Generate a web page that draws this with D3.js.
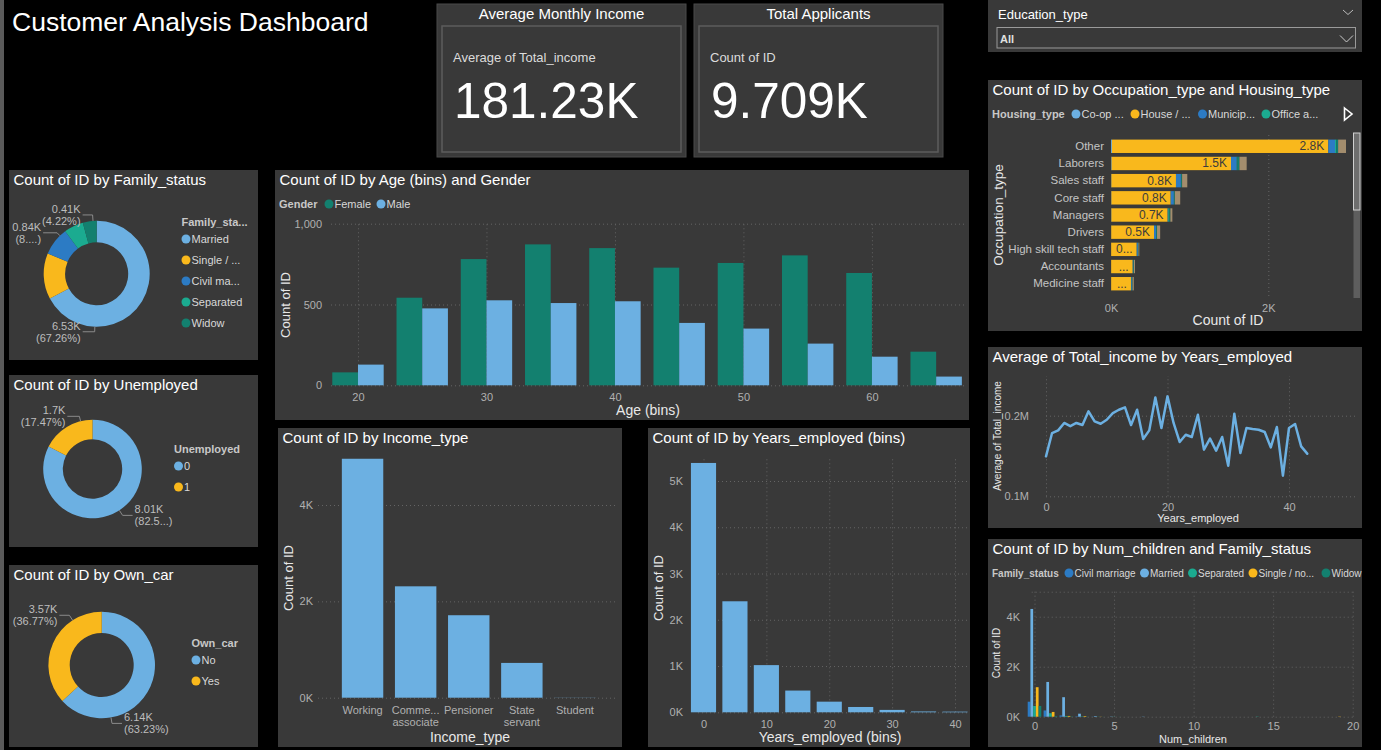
<!DOCTYPE html>
<html>
<head>
<meta charset="utf-8">
<script src="https://cdn.jsdelivr.net/npm/d3@7"></script>
<style>
  body { margin: 0; background: #000; }
  svg { display: block; font-family: "Liberation Sans", Arial, sans-serif; }
</style>
</head>
<body>
<svg id="dash" width="1381" height="750"></svg>
<script>
// ---- data ----
const familyStatus = ["Married", "Single / not married", "Civil marriage", "Separated", "Widow"];
const familyLegend = ["Married", "Single / ...", "Civil ma...", "Separated", "Widow"];
const familyCounts = [6530, 1359, 836, 574, 410];

const unemployedCats = ["0", "1"];
const unemployedCounts = [8013, 1696];

const ownCarCats = ["No", "Yes"];
const ownCarCounts = [6139, 3570];

const ageBins = [20, 25, 30, 35, 40, 45, 50, 55, 60, 65];
const ageFemale = [80, 542, 781, 872, 849, 728, 757, 804, 695, 208];
const ageMale = [128, 476, 526, 509, 520, 386, 351, 258, 177, 54];

const incomeTypes = ["Working", "Commercial associate", "Pensioner", "State servant", "Student"];
const incomeTickLabels = [["Working"], ["Comme...", "associate"], ["Pensioner"], ["State", "servant"], ["Student"]];
const incomeCounts = [4960, 2312, 1712, 722, 3];

const yearsBins = [0, 5, 10, 15, 20, 25, 30, 35, 40];
const yearsCounts = [5390, 2400, 1020, 470, 230, 115, 52, 18, 14];

const occupations = ["Other", "Laborers", "Sales staff", "Core staff", "Managers", "Drivers",
  "High skill tech staff", "Accountants", "Medicine staff"];
const housingTypes = ["Co-op apartment", "House / apartment", "Municipal apartment",
  "Office apartment", "Rented apartment", "With parents"];
const housingLegend = ["Co-op ...", "House / ...", "Municip...", "Office a..."];
const coopCounts = [12, 8, 5, 5, 5, 3, 2, 2, 2];
const houseCounts = [2751, 1518, 821, 754, 715, 544, 325, 274, 252];
const municipalCounts = [85, 72, 63, 40, 8, 25, 15, 8, 10];
const officeCounts = [15, 10, 5, 5, 15, 3, 3, 3, 2];
const rentedCounts = [25, 25, 10, 8, 12, 10, 5, 5, 8];
const parentsCounts = [100, 92, 66, 68, 25, 40, 10, 13, 16];

const yearsEmployed = [0, 1, 2, 3, 4, 5, 6, 7, 8, 9, 10, 11, 12, 13, 14, 15, 16, 17, 18, 19, 20, 21,
  22, 23, 24, 25, 26, 27, 28, 29, 30, 31, 32, 33, 34, 35, 36, 37, 38, 39, 40, 41, 42, 43];
const avgIncome = [149600, 178500, 181800, 191000, 187000, 191000, 188400, 205400, 193000, 190000,
  195000, 203300, 207400, 210300, 188400, 207400, 171000, 181800, 222700, 184700, 224000, 191000,
  167400, 176400, 173600, 201200, 157900, 171500, 156600, 173600, 138000, 202500, 153700, 184700,
  183500, 182600, 179800, 160700, 186000, 125600, 184700, 189700, 162000, 152900];

const childNums = [0, 1, 2, 3, 4, 5, 7, 14, 19];
const childFamily = ["Civil marriage", "Married", "Separated", "Single / not married", "Widow"];
const childLegend = ["Civil marriage", "Married", "Separated", "Single / no...", "Widow"];
const childCivil = [600, 250, 50, 15, 5, 0, 0, 0, 0];
const childMarried = [4310, 1390, 780, 120, 25, 10, 8, 0, 0];
const childSeparated = [430, 140, 30, 15, 5, 5, 0, 10, 0];
const childSingle = [1180, 190, 30, 25, 5, 0, 0, 0, 10];
const childWidow = [430, 25, 10, 5, 3, 3, 0, 0, 0];

// ---- colours ----
const LBLUE = "#6cb0e2", YELLOW = "#f9b81c", DBLUE = "#2c7bc4", TEAL = "#1bab90",
  DTEAL = "#13806f", TAN = "#a38d6d";
const PANEL = "#393939";
const GRID = "#646464";
const TICK = "#b0b0b0";

const svg = d3.select("#dash");
svg.append("rect").attr("width", 1381).attr("height", 750).attr("fill", "#000");
svg.append("rect").attr("width", 4).attr("height", 750).attr("fill", "#5a5a5a");

// ---- helpers ----
function panel(x, y, w, h, title) {
  svg.append("rect").attr("x", x).attr("y", y).attr("width", w).attr("height", h).attr("fill", PANEL);
  if (title) {
    svg.append("text").attr("x", x + 4.5).attr("y", y + 15).attr("fill", "#fff")
      .style("font-size", "15px").text(title);
  }
}

function fitText(sel, full, maxW, parens) {
  sel.text(full);
  if (sel.node().getComputedTextLength() <= maxW) return;
  const s = parens ? full.slice(1, -1) : full;
  for (let n = s.length - 1; n >= 0; n--) {
    const t = parens ? "(" + s.slice(0, n) + "...)" : s.slice(0, n) + "...";
    sel.text(t);
    if (sel.node().getComputedTextLength() <= maxW) return;
  }
}

const fmtK = v => (+(v / 1000).toFixed(2)) + "K";

function yAxis(scale, ticks, fmt, x0, x1, labelX) {
  const g = svg.append("g").attr("transform", `translate(${x0},0)`)
    .call(d3.axisLeft(scale).tickValues(ticks).tickFormat(fmt)
      .tickSize(-(x1 - x0)).tickPadding(x0 - labelX));
  g.select(".domain").remove();
  g.selectAll("line").attr("stroke", GRID).attr("stroke-dasharray", "1,3");
  g.selectAll("text").attr("fill", TICK).style("font-size", "11px").style("font-family", null);
  return g;
}

function xAxis(scale, ticks, fmt, yBase, yTop, pad) {
  const axis = d3.axisBottom(scale).tickFormat(fmt).tickPadding(pad);
  if (ticks) axis.tickValues(ticks);
  axis.tickSize(yTop === null ? 0 : -(yBase - yTop));
  const g = svg.append("g").attr("transform", `translate(0,${yBase})`).call(axis);
  g.select(".domain").remove();
  g.selectAll("line").attr("stroke", GRID).attr("stroke-dasharray", "1,3");
  g.selectAll("text").attr("fill", TICK).style("font-size", "11px").style("font-family", null);
  return g;
}

function hTitle(x, y, text, size) {
  svg.append("text").attr("x", x).attr("y", y).attr("text-anchor", "middle")
    .attr("dominant-baseline", "central").attr("fill", "#e8e8e8")
    .style("font-size", size + "px").text(text);
}

function vTitle(x, y, text, size) {
  svg.append("text").attr("transform", `translate(${x},${y}) rotate(-90)`)
    .attr("text-anchor", "middle").attr("dominant-baseline", "central")
    .attr("fill", "#e8e8e8").style("font-size", size + "px").text(text);
}

function legendV(x, y, title, labels, colors) {
  svg.append("text").attr("x", x).attr("y", y + 4).attr("fill", "#c8c8c8")
    .style("font-size", "11px").style("font-weight", "bold").text(title);
  labels.forEach((t, i) => {
    const cy = y + 17 + i * 21;
    svg.append("circle").attr("cx", x + 4.5).attr("cy", cy).attr("r", 4.5).attr("fill", colors[i]);
    svg.append("text").attr("x", x + 10).attr("y", cy + 4).attr("fill", "#d8d8d8")
      .style("font-size", "11px").text(t);
  });
}

function legendH(y, titleX, title, labels, colors, dotXs, size) {
  svg.append("text").attr("x", titleX).attr("y", y + 4).attr("fill", "#c8c8c8")
    .style("font-size", size + "px").style("font-weight", "bold").text(title);
  labels.forEach((t, i) => {
    svg.append("circle").attr("cx", dotXs[i]).attr("cy", y).attr("r", 4.5).attr("fill", colors[i]);
    svg.append("text").attr("x", dotXs[i] + 5.5).attr("y", y + 4).attr("fill", "#d8d8d8")
      .style("font-size", size + "px").text(t);
  });
}

function donut(o) {
  const total = d3.sum(o.values);
  const pie = d3.pie().sort(null).value(d => d)(o.values);
  const arc = d3.arc().innerRadius(o.ri).outerRadius(o.r);
  const g = svg.append("g").attr("transform", `translate(${o.cx},${o.cy})`);
  g.selectAll("path").data(pie).join("path").attr("d", arc).attr("fill", (d, i) => o.colors[i]);

  o.labels.forEach(l => {
    const a = l.angle * Math.PI / 180;
    const p0 = [o.cx + o.r * Math.sin(a), o.cy - o.r * Math.cos(a)];
    const p1 = [o.cx + (o.r + l.ext) * Math.sin(a), o.cy - (o.r + l.ext) * Math.cos(a)];
    const right = Math.sin(a) > 0.05 && !l.left;
    const p2 = [p1[0] + (right ? l.h : -l.h), p1[1]];
    svg.append("path").attr("d", d3.line()([p0, p1, p2]))
      .attr("fill", "none").attr("stroke", "#8a8a8a").attr("stroke-width", 1);
    const tx = p2[0] + (right ? 2 : -2);
    const maxW = right ? o.legendX - tx - 1 : tx - o.panelX - 2;
    const v = o.values[l.i];
    const t1 = svg.append("text").attr("x", tx).attr("y", p2[1] - 2)
      .attr("text-anchor", right ? "start" : "end").attr("fill", "#bdbdbd").style("font-size", "11px");
    fitText(t1, fmtK(v), maxW, false);
    const t2 = svg.append("text").attr("x", tx).attr("y", p2[1] + 10)
      .attr("text-anchor", right ? "start" : "end").attr("fill", "#bdbdbd").style("font-size", "11px");
    fitText(t2, "(" + (v / total * 100).toFixed(2) + "%)", maxW, true);
  });
}

// ---- header ----
svg.append("text").attr("x", 12).attr("y", 31).attr("fill", "#fff")
  .style("font-size", "26.5px").text("Customer Analysis Dashboard");

function kpi(x, title, sub, value) {
  svg.append("rect").attr("x", x).attr("y", 4).attr("width", 249).attr("height", 153)
    .attr("fill", PANEL).attr("stroke", "#4a4a4a");
  svg.append("text").attr("x", x + 124.5).attr("y", 18.5).attr("text-anchor", "middle")
    .attr("fill", "#fff").style("font-size", "15px").text(title);
  svg.append("rect").attr("x", x + 5).attr("y", 26).attr("width", 239).attr("height", 126)
    .attr("fill", PANEL).attr("stroke", "#5c5c5c").attr("stroke-width", 1.5);
  svg.append("text").attr("x", x + 16).attr("y", 62).attr("fill", "#dcdcdc")
    .style("font-size", "13px").text(sub);
  svg.append("text").attr("x", x + 17).attr("y", 118).attr("fill", "#fff")
    .style("font-size", "49.5px").text(value);
}
kpi(437, "Average Monthly Income", "Average of Total_income", "181.23K");
kpi(694, "Total Applicants", "Count of ID", "9.709K");

// ---- slicer ----
panel(988, 0, 374, 52);
svg.append("text").attr("x", 998).attr("y", 19).attr("fill", "#fff").style("font-size", "13px").text("Education_type");
svg.append("path").attr("d", "M1343,10 L1348,14.5 L1353,10").attr("fill", "none").attr("stroke", "#bbb");
svg.append("rect").attr("x", 997).attr("y", 27.5).attr("width", 358.5).attr("height", 20.5)
  .attr("fill", "none").attr("stroke", "#9a9a9a");
svg.append("text").attr("x", 1000).attr("y", 43).attr("fill", "#e0e0e0")
  .style("font-size", "11px").style("font-weight", "bold").text("All");
svg.append("path").attr("d", "M1340,35.5 L1346.5,42 L1353,35.5").attr("fill", "none").attr("stroke", "#ccc");

// ---- donuts ----
panel(9, 170, 249, 190, "Count of ID by Family_status");
donut({
  cx: 96.7, cy: 273.8, r: 53, ri: 31.5, values: familyCounts,
  colors: [LBLUE, YELLOW, DBLUE, TEAL, DTEAL], panelX: 9, legendX: 181,
  labels: [
    { i: 4, angle: -4, ext: 6, h: 10 },
    { i: 2, angle: -44, ext: 4, h: 14 },
    { i: 0, angle: 182, ext: 5, h: 12, left: true }
  ]
});
legendV(181.5, 222, "Family_sta...", familyLegend, [LBLUE, YELLOW, DBLUE, TEAL, DTEAL]);

panel(9, 375, 249, 172, "Count of ID by Unemployed");
donut({
  cx: 92.5, cy: 469, r: 49.3, ri: 29.7, values: unemployedCounts,
  colors: [LBLUE, YELLOW], panelX: 9, legendX: 174,
  labels: [
    { i: 1, angle: -14, ext: 5, h: 12 },
    { i: 0, angle: 147, ext: 6, h: 10 }
  ]
});
legendV(174, 449, "Unemployed", unemployedCats, [LBLUE, YELLOW]);

panel(9, 565, 249, 182, "Count of ID by Own_car");
donut({
  cx: 101.7, cy: 665, r: 53.3, ri: 32, values: ownCarCounts,
  colors: [LBLUE, YELLOW], panelX: 9, legendX: 191,
  labels: [
    { i: 1, angle: -33, ext: 6, h: 10 },
    { i: 0, angle: 170, ext: 6, h: 10 }
  ]
});
legendV(191.5, 643, "Own_car", ownCarCats, [LBLUE, YELLOW]);

// ---- age by gender ----
panel(275, 170, 694, 250, "Count of ID by Age (bins) and Gender");
legendH(204, 279, "Gender", ["Female", "Male"], [DTEAL, LBLUE], [329, 381], 11);
const ageX = d3.scaleLinear().domain([17.9, 67.4]).range([331, 967]);
const ageY = d3.scaleLinear().domain([0, 1000]).range([385.3, 223.7]);
yAxis(ageY, [0, 500, 1000], d3.format(","), 331, 967, 322);
xAxis(ageX, [20, 30, 40, 50, 60], d3.format("d"), 385.3, 223.7, 8);
const ageRows = ageBins.map((b, i) => ({ bin: b, female: ageFemale[i], male: ageMale[i] }));
svg.append("g").selectAll("rect").data(ageRows).join("rect")
  .attr("x", d => ageX(d.bin - 2)).attr("width", d => ageX(d.bin) - ageX(d.bin - 2))
  .attr("y", d => ageY(d.female)).attr("height", d => ageY(0) - ageY(d.female)).attr("fill", DTEAL);
svg.append("g").selectAll("rect").data(ageRows).join("rect")
  .attr("x", d => ageX(d.bin)).attr("width", d => ageX(d.bin + 2) - ageX(d.bin))
  .attr("y", d => ageY(d.male)).attr("height", d => ageY(0) - ageY(d.male)).attr("fill", LBLUE);
hTitle(648, 410, "Age (bins)", 14);
vTitle(285, 305, "Count of ID", 13);

// ---- income type ----
panel(278, 428, 344, 319, "Count of ID by Income_type");
const incX = d3.scaleBand().domain(incomeTypes).range([336, 601.5]).paddingInner(0.22).paddingOuter(0.11);
const incY = d3.scaleLinear().domain([0, 4000]).range([697.7, 505]);
yAxis(incY, [0, 2000, 4000], d => d / 1000 + "K", 318, 615, 313);
const incAxis = xAxis(incX, null, d => d, 697.7, null, 9);
incAxis.selectAll(".tick text").each(function (d) {
  const lines = incomeTickLabels[incomeTypes.indexOf(d)];
  const t = d3.select(this).text(null);
  lines.forEach((s, k) => t.append("tspan").attr("x", 0).attr("dy", k === 0 ? "0.71em" : "1.05em").text(s));
});
svg.append("g").selectAll("rect").data(incomeTypes).join("rect")
  .attr("x", d => incX(d)).attr("width", incX.bandwidth())
  .attr("y", (d, i) => incY(incomeCounts[i])).attr("height", (d, i) => incY(0) - incY(incomeCounts[i]))
  .attr("fill", LBLUE);
hTitle(470, 736.5, "Income_type", 14);
vTitle(288, 578, "Count of ID", 13);

// ---- years employed bins ----
panel(648, 428, 322, 319, "Count of ID by Years_employed (bins)");
const yrsX = d3.scaleLinear().domain([0, 40]).range([703.5, 955]);
const yrsY = d3.scaleLinear().domain([0, 5000]).range([712.3, 481]);
yAxis(yrsY, [0, 1000, 2000, 3000, 4000, 5000], d => d / 1000 + "K", 698, 967, 683);
xAxis(yrsX, [0, 10, 20, 30, 40], d3.format("d"), 712.3, 456.7, 8);
svg.append("g").selectAll("rect").data(yearsBins).join("rect")
  .attr("x", d => yrsX(d - 2)).attr("width", d => yrsX(d + 2) - yrsX(d - 2))
  .attr("y", (d, i) => yrsY(yearsCounts[i])).attr("height", (d, i) => yrsY(0) - yrsY(yearsCounts[i]))
  .attr("fill", LBLUE);
hTitle(830, 736.5, "Years_employed (bins)", 14);
vTitle(658, 588, "Count of ID", 13);

// ---- occupation x housing ----
panel(988, 80, 374, 251, "Count of ID by Occupation_type and Housing_type");
const housingColors = [LBLUE, YELLOW, DBLUE, TEAL, DTEAL, TAN];
legendH(114, 992, "Housing_type", housingLegend, housingColors, [1076, 1135, 1202.5, 1266], 11);
svg.append("path").attr("d", "M1344.5,108 L1352,114 L1344.5,120 Z").attr("fill", "none")
  .attr("stroke", "#fff").attr("stroke-width", 1.6);
const occRows = occupations.map((o, i) => ({
  occ: o,
  "Co-op apartment": coopCounts[i], "House / apartment": houseCounts[i],
  "Municipal apartment": municipalCounts[i], "Office apartment": officeCounts[i],
  "Rented apartment": rentedCounts[i], "With parents": parentsCounts[i]
}));
const occStack = d3.stack().keys(housingTypes)(occRows);
const occX = d3.scaleLinear().domain([0, 2000]).range([1111, 1268.3]);
const occY = d3.scaleBand().domain(occupations).range([137.7, 292.3]).paddingInner(0.22).paddingOuter(0.11);
const occXAxis = xAxis(occX, [0, 2000], d => d / 1000 + "K", 296, 133, 8);
occXAxis.selectAll("line").filter(d => d === 0).remove();
const occYAxis = svg.append("g").attr("transform", "translate(1111,0)")
  .call(d3.axisLeft(occY).tickSize(0).tickPadding(7));
occYAxis.select(".domain").remove();
occYAxis.selectAll("text").attr("fill", "#c4c4c4").style("font-size", "11.5px").style("font-family", null);
occStack.forEach((layer, k) => {
  svg.append("g").selectAll("rect").data(layer).join("rect")
    .attr("x", d => occX(d[0])).attr("width", d => occX(d[1]) - occX(d[0]))
    .attr("y", d => occY(d.data.occ)).attr("height", occY.bandwidth())
    .attr("fill", housingColors[k]);
});
occStack[1].forEach(d => {
  const x1 = occX(d[1]), w = occX(d[1]) - occX(d[0]);
  const t = svg.append("text").attr("x", x1 - 4).attr("y", occY(d.data.occ) + occY.bandwidth() / 2)
    .attr("dominant-baseline", "central").attr("text-anchor", "end")
    .attr("fill", "#3c3c3c").style("font-size", "12px");
  fitText(t, ((d[1] - d[0]) / 1000).toFixed(1) + "K", w - 6, false);
});
// scroll bar
svg.append("rect").attr("x", 1353.5).attr("y", 133).attr("width", 6.5).attr("height", 165).attr("fill", "#5e5e5e");
svg.append("rect").attr("x", 1353.5).attr("y", 133).attr("width", 6.5).attr("height", 77)
  .attr("fill", "#6e6e6e").attr("stroke", "#d0d0d0").attr("stroke-width", 1);
hTitle(1228, 320, "Count of ID", 14);
vTitle(998, 215, "Occupation_type", 13.5);

// ---- average income line ----
panel(988, 347, 374, 181, "Average of Total_income by Years_employed");
const lnX = d3.scaleLinear().domain([0, 40]).range([1046, 1289]);
const lnY = d3.scaleLinear().domain([100000, 200000]).range([496.3, 415.7]);
yAxis(lnY, [100000, 200000], d => d / 1e6 + "M", 1046, 1357, 1029);
xAxis(lnX, [0, 20, 40], d3.format("d"), 496.3, 376, 7);
svg.append("path").datum(yearsEmployed.map((y, i) => [y, avgIncome[i]]))
  .attr("d", d3.line().x(d => lnX(d[0])).y(d => lnY(d[1])))
  .attr("fill", "none").attr("stroke", LBLUE).attr("stroke-width", 2.5)
  .attr("stroke-linejoin", "round").attr("stroke-linecap", "round");
hTitle(1198, 518, "Years_employed", 11);
vTitle(997, 436, "Average of Total_income", 10);

// ---- num children x family status ----
panel(988, 539, 374, 208, "Count of ID by Num_children and Family_status");
const childColors = [DBLUE, LBLUE, TEAL, YELLOW, DTEAL];
legendH(573, 992, "Family_status", childLegend, childColors, [1069, 1144.5, 1192.5, 1253, 1326], 10);
const chX = d3.scaleLinear().domain([0, 20]).range([1034.5, 1352.7]);
const chY = d3.scaleLinear().domain([0, 4000]).range([716.7, 616.7]);
yAxis(chY, [0, 2000, 4000, 5000], d => d === 5000 ? "" : d / 1000 + "K", 1031.7, 1353.3, 1020);
xAxis(chX, [0, 5, 10, 15, 20], d3.format("d"), 716.7, 591.7, 6);
const chSub = d3.scaleBand().domain(childFamily).range([-6.8, 6.8]);
const childSeries = [childCivil, childMarried, childSeparated, childSingle, childWidow];
childSeries.forEach((vals, k) => {
  svg.append("g").selectAll("rect").data(childNums).join("rect")
    .attr("x", d => chX(d) + chSub(childFamily[k])).attr("width", chSub.bandwidth())
    .attr("y", (d, i) => chY(vals[i])).attr("height", (d, i) => chY(0) - chY(vals[i]))
    .attr("fill", childColors[k]);
});
hTitle(1193, 738.5, "Num_children", 11);
vTitle(996, 653, "Count of ID", 10);
</script>
</body>
</html>
